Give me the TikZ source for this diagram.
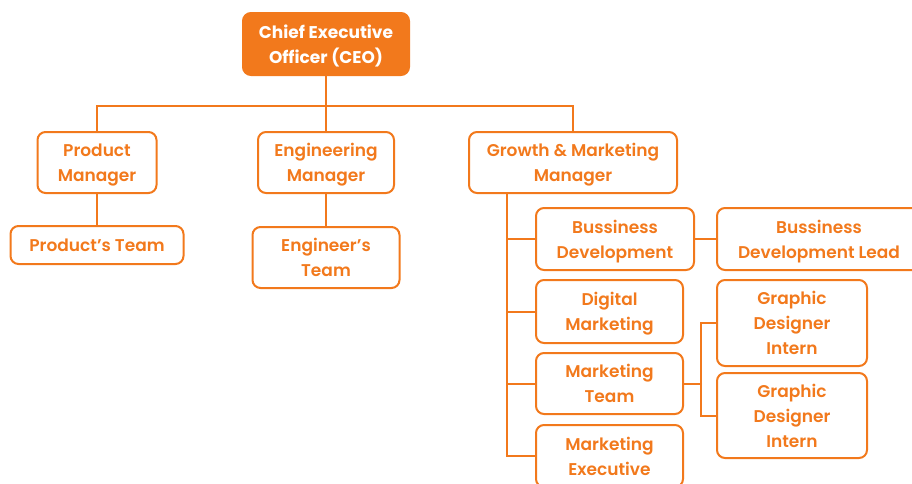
\documentclass[tikz,border=0pt]{standalone}
\usepackage{fontspec}
\setmainfont{Poppins}[UprightFont=* SemiBold, BoldFont=* Bold]
\definecolor{orgorange}{HTML}{F2791C}
\begin{document}
\begin{tikzpicture}[x=1pt,y=-1pt,line cap=round,
  box/.style={draw=orgorange,line width=2pt,rounded corners=8pt,fill=white,
    text=orgorange,align=center,inner sep=0pt,text depth=0pt,
    font=\fontsize{17}{25}\selectfont},
  ceobox/.style={box,fill=orgorange,text=white,font=\fontsize{17}{25}\selectfont\bfseries},
  link/.style={draw=orgorange,line width=2pt}]
\useasboundingbox (0,0) rectangle (912,483);
\clip (0,0) rectangle (912,483);
%top
\node[ceobox,minimum width=166pt,minimum height=62pt] (ceo) at (326,44) {Chief Executive\\Officer (CEO)};
\node[box,minimum width=119pt,minimum height=61pt] (prod) at (97,162.5) {Product\\Manager};
\node[box,minimum width=136pt,minimum height=61pt] (eng) at (326,162.5) {Engineering\\Manager};
\node[box,minimum width=208pt,minimum height=61pt] (growth) at (573,162.5) {Growth \& Marketing\\Manager};
\node[box,minimum width=173pt,minimum height=38pt] (prodteam) at (97,245) {Product’s Team};
\node[box,minimum width=147pt,minimum height=61pt] (engteam) at (326,257.5) {Engineer’s\\Team};
%growth side
\node[box,minimum width=158pt,minimum height=62pt] (bd) at (615,239) {Bussiness\\Development};
\node[box,minimum width=204pt,minimum height=62pt] (bdl) at (819,239) {Bussiness\\Development Lead};
\node[box,minimum width=147pt,minimum height=63pt] (dm) at (609.5,311.5) {Digital\\Marketing};
\node[box,minimum width=147pt,minimum height=61pt] (mt) at (609.5,383.5) {Marketing\\Team};
\node[box,minimum width=147pt,minimum height=62pt] (me) at (609.5,456) {Marketing\\Executive};
\node[box,minimum width=150pt,minimum height=86pt] (gd1) at (792,323) {Graphic\\Designer\\Intern};
\node[box,minimum width=150pt,minimum height=85pt] (gd2) at (792,415.5) {Graphic\\Designer\\Intern};
%connectors
\coordinate (bar) at (326,106);
\coordinate (trunk) at ([xshift=39pt]growth.south west);
\coordinate (split) at ([xshift=17pt]mt.east);
\draw[link] (ceo) -- (bar);
\draw[link] (prod.north) |- (bar) -| (growth.north);
\draw[link] (bar) -- (eng.north);
\draw[link] (prod) -- (prodteam);
\draw[link] (eng) -- (engteam);
\draw[link] (trunk) |- (bd.west);
\draw[link] (trunk) |- (dm.west);
\draw[link] (trunk) |- (mt.west);
\draw[link] (trunk) |- (me.west);
\draw[link] (bd) -- (bdl);
\draw[link] (mt.east) -- (split);
\draw[link] (split) |- (gd1.west);
\draw[link] (split) |- (gd2.west);
\end{tikzpicture}
\end{document}
